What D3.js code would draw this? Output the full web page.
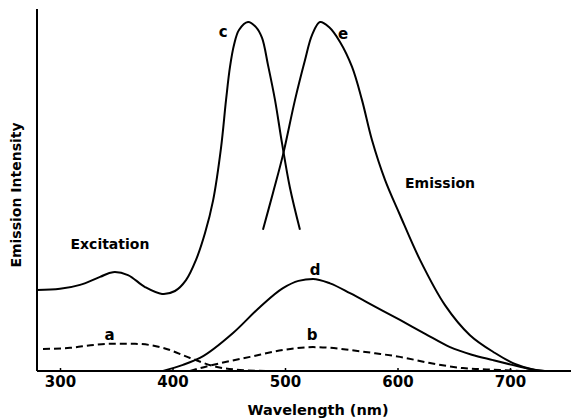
<!DOCTYPE html>
<html>
<head>
<meta charset="utf-8">
<script src="https://cdn.jsdelivr.net/npm/d3@7"></script>
<style>
  html, body { margin: 0; padding: 0; background: #fff; }
  svg { display: block; }
  text { font-family: "DejaVu Sans", sans-serif; fill: #000; }
</style>
</head>
<body>
<script>
// Wavelength (nm) and relative intensity (0–100)
const excitationC = [
  [279.6,22.4],[300,22.7],[317.8,23.8],[335.6,26.0],[347.1,27.3],[360.4,26.5],
  [375.6,23.2],[390.7,21.3],[402.2,22.1],[412.0,25.1],[420.9,30.7],[428.9,38.1],
  [436.0,47.0],[443.1,61.6],[447.6,74.9],[451.1,84.0],[454.7,90.1],[459.1,94.2],
  [467.1,96.4],[474.2,95.0],[479.6,92.0],[484.9,84.5],[491.1,74.9],[497.3,63.0],
  [504.4,50.6],[513.3,39.0]
];
const curveE = [
  [480.4,39.0],[489.3,49.2],[498.2,59.7],[508.9,74.9],[517.8,85.9],[524.0,92.8],
  [531.1,96.4],[539.1,95.0],[548.9,90.9],[559.6,84.0],[568.4,74.9],[577.3,63.8],
  [588.9,52.8],[602.2,43.1],[620.0,30.7],[642.2,18.2],[664.4,9.9],[686.7,4.97],
  [704.4,1.93],[722.2,0.28],[733.8,0]
];
const curveD = [
  [391.6,0],[409.3,1.7],[424.4,3.6],[453.8,10.5],[477.8,17.7],[498.2,22.9],
  [512,24.9],[524.9,25.4],[540,24.2],[557.8,21.5],[580,17.8],[602.2,14.1],
  [625,10.2],[646.7,6.6],[666,4.5],[684.9,3.0],[701.8,1.7],[717.8,0.55],[731,0]
];
const curveA = [
  [284.9,6.1],[308.9,6.4],[330,7.2],[344.4,7.5],[366.7,7.5],[391.6,6.4],
  [415.6,3.6],[439.6,1.1],[460,0.3],[486.7,0]
];
const curveB = [
  [415.6,0],[424.4,0.8],[446,2.4],[468.9,3.9],[498.2,5.8],[524.9,6.6],
  [540,6.4],[557.8,5.8],[580,4.9],[602.2,3.9],[628.9,2.2],[658.2,0.8],
  [691.1,0.3],[708.9,0]
];
const xTicks = [300, 400, 500, 600, 700];
const curveLabels = [
  {text: "a", x: 344, y: 9.9},
  {text: "b", x: 524, y: 9.9},
  {text: "c", x: 445, y: 93.6},
  {text: "d", x: 526.7, y: 27.9},
  {text: "e", x: 551.6, y: 93.0}
];
const regionLabels = [
  {text: "Excitation", x: 344.4, y: 35.0},
  {text: "Emission", x: 637.8, y: 51.9}
];
const xTitle = "Wavelength (nm)";
const yTitle = "Emission Intensity";

const W = 571, H = 419;
const svg = d3.select("body").append("svg").attr("width", W).attr("height", H);

const x = d3.scaleLinear().domain([300, 700]).range([60, 510]);
const y = d3.scaleLinear().domain([0, 100]).range([371, 9]);
const x0 = x.invert(37), x1 = x.invert(571);

const line = d3.line().x(d => x(d[0])).y(d => y(d[1])).curve(d3.curveCatmullRom.alpha(0.5));
const tail = d3.line().x(d => x(d[0])).y(d => y(d[1])).curve(d3.curveMonotoneX);

// axes
svg.append("line").attr("x1", x(x0)).attr("x2", x(x0)).attr("y1", y(100)).attr("y2", y(0))
  .attr("stroke", "#000").attr("stroke-width", 2);
const xAxis = d3.axisBottom(x).tickValues(xTicks).tickSize(-3).tickPadding(8).tickFormat(d3.format("d"));
const gx = svg.append("g").attr("transform", `translate(0,${y(0)})`).call(xAxis);
gx.select(".domain").attr("d", `M${x(x0)},0H${x(x1)}`).attr("stroke-width", 2);
gx.selectAll(".tick line").attr("stroke-width", 1.5);
gx.selectAll(".tick text").attr("font-size", 15).attr("font-weight", "bold")
  .attr("font-family", "DejaVu Sans, sans-serif").attr("dy", "0.55em");

// curves
[excitationC, curveE].forEach(s => svg.append("path").attr("d", line(s)).attr("fill", "none")
  .attr("stroke", "#000").attr("stroke-width", 2));
svg.append("path").attr("d", tail(curveD)).attr("fill", "none")
  .attr("stroke", "#000").attr("stroke-width", 2);
[curveA, curveB].forEach(s => svg.append("path").attr("d", tail(s)).attr("fill", "none")
  .attr("stroke", "#000").attr("stroke-width", 2).attr("stroke-dasharray", "7,4"));

// labels
svg.selectAll(".cl").data(curveLabels).enter().append("text")
  .attr("x", d => x(d.x)).attr("y", d => y(d.y)).attr("text-anchor", "middle")
  .attr("dominant-baseline", "central").attr("font-size", 15).attr("font-weight", "bold")
  .text(d => d.text);
svg.selectAll(".rl").data(regionLabels).enter().append("text")
  .attr("x", d => x(d.x)).attr("y", d => y(d.y)).attr("text-anchor", "middle")
  .attr("dominant-baseline", "central").attr("font-size", 14).attr("font-weight", "bold")
  .text(d => d.text);

svg.append("text").attr("x", 318).attr("y", 415).attr("text-anchor", "middle")
  .attr("font-size", 14.5).attr("font-weight", "bold").text(xTitle);
svg.append("text").attr("transform", "translate(21,195) rotate(-90)")
  .attr("text-anchor", "middle").attr("font-size", 14).attr("font-weight", "bold").text(yTitle);
</script>
</body>
</html>
